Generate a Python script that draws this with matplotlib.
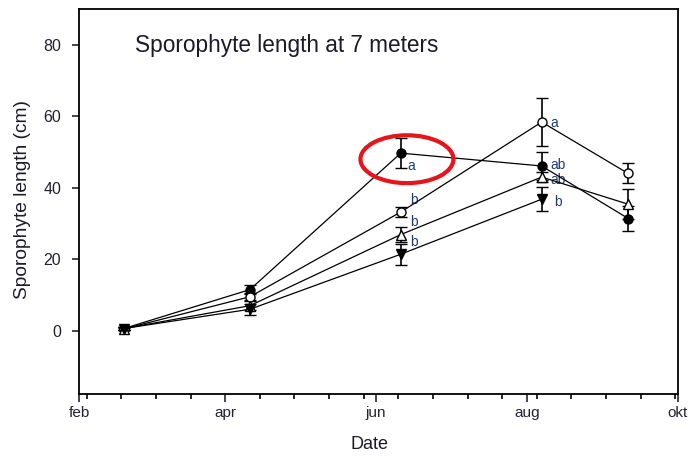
import matplotlib
matplotlib.use('Agg')
import matplotlib.pyplot as plt
from matplotlib.patches import Ellipse

plt.rcParams['font.family'] = ['Liberation Sans', 'DejaVu Sans']

# sampling dates as day of year
days = [50, 101, 162, 219, 254]

# mean sporophyte length (cm) and error per series
filled_circle = [0.6, 11.5, 49.7, 46.1, 31.4]
filled_circle_err = [0.3, 1.3, 4.3, 3.9, 3.6]
open_circle = [0.5, 9.5, 33.2, 58.4, 44.0]
open_circle_err = [0.3, 1.0, 1.5, 6.6, 2.8]
open_triangle = [0.6, 7.0, 26.9, 43.0, 35.4]
open_triangle_err = [0.3, 1.2, 2.0, 1.5, 4.2]
filled_tri_down = [0.6, 6.0, 21.4, 36.8]
filled_tri_down_err = [0.3, 1.5, 3.0, 3.4]

# significance letters at jun and aug (same order as the series)
jun_letters = ['a', 'b', 'b', 'b']
aug_letters = ['ab', 'a', 'ab', 'b']

month_ticks = [32, 91, 152, 213, 274]
month_labels = ['feb', 'apr', 'jun', 'aug', 'okt']

fig = plt.figure(figsize=(6.88, 4.57), dpi=100)
ax = fig.add_axes([0.1153, 0.138, 0.8697, 0.842])

series = [
    (filled_circle, filled_circle_err, 'o', 'black'),
    (open_circle, open_circle_err, 'o', 'white'),
    (open_triangle, open_triangle_err, '^', 'white'),
    (filled_tri_down, filled_tri_down_err, 'v', 'black'),
]
for vals, err, mk, fc in series:
    ax.errorbar(days[:len(vals)], vals, yerr=err, color='black', lw=0.9,
                marker=mk, markersize=6.5, markerfacecolor=fc,
                markeredgecolor='black', markeredgewidth=1.0,
                ecolor='black', elinewidth=1.2, capsize=4.5, capthick=1.2, zorder=3)

txt_col = '#1f3a78'
# letters at june
jun_offsets = [(5, -9), (7, 9), (7, 9), (7, 9)]
for (vals, err, mk, fc), lab, off in zip(series, jun_letters, jun_offsets):
    ax.annotate(lab, (days[2], vals[2]), xytext=off, textcoords='offset points',
                fontsize=10, color=txt_col, va='center', ha='left')
# letters at august
aug_offsets = [(6, 1), (6, -1), (6, -2), (9, -2)]
for (vals, err, mk, fc), lab, off in zip(series, aug_letters, aug_offsets):
    ax.annotate(lab, (days[3], vals[3]), xytext=off, textcoords='offset points',
                fontsize=10, color=txt_col, va='center', ha='left')

# red highlight round the june peak
ax.add_patch(Ellipse((164.5, 48), 37.6, 13.4, fill=False, edgecolor='#e8141b',
                     lw=3, zorder=5))

ax.text(0.093, 0.906, 'Sporophyte length at 7 meters', transform=ax.transAxes,
        fontsize=16.3, color='#1a1a2a', va='center', ha='left')

ax.set_xlim(32, 274)
ax.set_ylim(-17.7, 90)
ax.set_xticks(month_ticks)
ax.set_xticklabels(month_labels)
ax.set_xticks(list(range(35, 274, 14)), minor=True)
ax.set_yticks([0, 20, 40, 60, 80])

ax.tick_params(axis='x', which='major', length=6, width=1.2, labelsize=11,
               colors='#222233', pad=3)
ax.tick_params(axis='x', which='minor', length=3.5, width=1.2)
ax.tick_params(axis='y', which='major', length=5, width=1.2, labelsize=11.5,
               colors='#222233', pad=8)
for s in ax.spines.values():
    s.set_linewidth(1.3)

ax.set_xlabel('Date', fontsize=13, color='#1a1a2a')
ax.set_ylabel('Sporophyte length (cm)', fontsize=13.8, color='#1a1a2a')
ax.xaxis.set_label_coords(0.485, -0.11)
ax.yaxis.set_label_coords(-0.081, 0.504)

fig.savefig('out.png', dpi=100)
